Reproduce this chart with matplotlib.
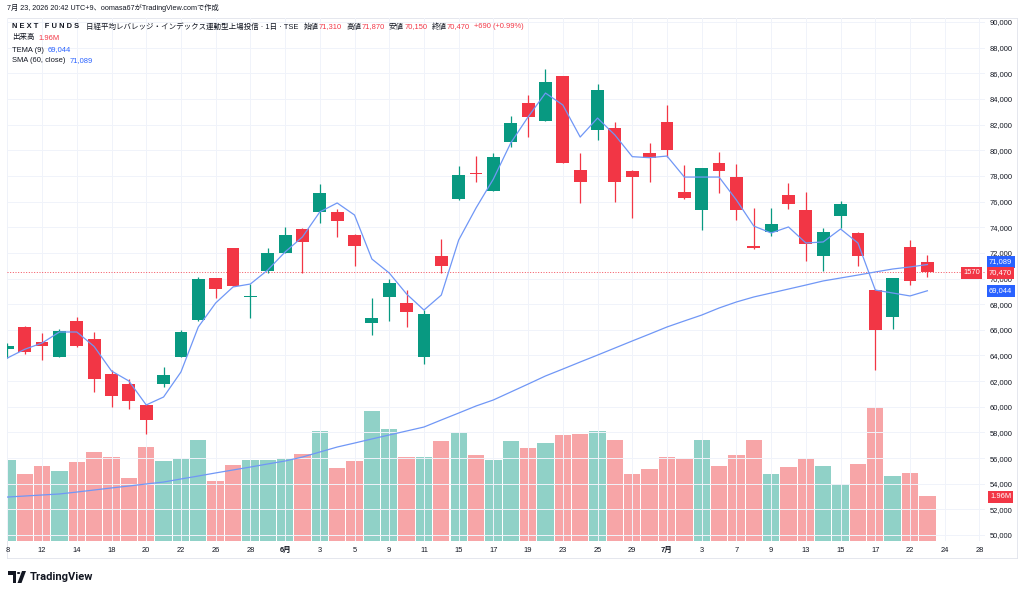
import numpy as np
import matplotlib
matplotlib.use("Agg")
import matplotlib.pyplot as plt
from matplotlib.lines import Line2D
from matplotlib.patches import Polygon, Circle

plt.rcParams['font.family'] = ['Liberation Sans', 'Noto Sans CJK JP', 'DejaVu Sans']

# === DATI ===
# sessioni: 8 mag .. 23 lug 2026
opens = [64500, 66200, 65080, 63860, 66700, 65250, 62580, 61800, 60140, 61750,
         63880, 66770, 70010, 72350, 68540, 70610, 72010, 73830, 75210, 75160,
         73390, 66530, 68580, 68070, 63860, 71780, 76200, 78210, 76850, 80670,
         83660, 82300, 85790, 78460, 81580, 81710, 78380, 79810, 82230, 76720,
         75340, 79000, 77910, 72530, 73600, 76510, 75340, 71780, 74900, 73520,
         69100, 66980, 72480, 71310]
highs = [64970, 66300, 65770, 66050, 66980, 65800, 62870, 62140, 60200, 63120,
         65990, 70090, 70050, 72400, 69570, 72400, 73990, 73900, 77370, 75400,
         73450, 68500, 69940, 69100, 67540, 73070, 78770, 79550, 79760, 82670,
         84300, 86310, 85800, 79810, 85140, 82230, 78460, 80590, 83530, 78850,
         78620, 79870, 78930, 75470, 75470, 77420, 76770, 73910, 76040, 73650,
         69200, 70050, 73000, 71870]
lows = [63800, 64150, 63650, 63850, 64650, 61180, 59960, 59800, 57850, 61560,
        63850, 66700, 68460, 69400, 66950, 70450, 71950, 70410, 74350, 73260,
        70970, 65600, 66690, 66240, 63310, 70450, 76150, 77550, 76800, 80230,
        81060, 82250, 79000, 75910, 80800, 75990, 74740, 77550, 79500, 76180,
        73780, 76640, 74560, 72280, 73340, 75420, 71390, 70580, 73910, 70970,
        62870, 66040, 69490, 70150]
closes = [64750, 64250, 64750, 65900, 64700, 62150, 60860, 60430, 58970, 62450,
          65830, 69940, 69180, 69440, 68580, 72010, 73390, 72850, 76640, 74510,
          72530, 66950, 69670, 67370, 67210, 71000, 78100, 78130, 79500, 82150,
          82570, 85350, 79030, 77550, 84700, 77500, 77890, 79370, 80020, 76300,
          78590, 78410, 75340, 72400, 74250, 75790, 72670, 73650, 75810, 71780,
          65980, 70010, 69780, 70470]
volumes = [3.52, 2.94, 3.25, 3.03, 3.43, 3.88, 3.65, 2.76, 4.10, 3.47,
           3.56, 4.41, 2.63, 3.30, 3.52, 3.52, 3.61, 3.79, 4.81, 3.16,
           3.47, 5.66, 4.86, 3.65, 3.65, 4.37, 4.72, 3.74, 3.52, 4.37,
           4.05, 4.28, 4.63, 4.68, 4.77, 4.41, 2.94, 3.12, 3.65, 3.56,
           4.41, 3.25, 3.74, 4.41, 2.94, 3.21, 3.56, 3.25, 2.49, 3.34,
           5.84, 2.85, 2.98, 1.96]  # milioni
tema = [63800, 64480, 64970, 65830, 65830, 64700, 62790, 62010, 60140, 60760,
        62710, 66220, 68090, 69340, 69570, 70660, 72070, 73240, 75190, 75890,
        74950, 71520, 70430, 68790, 67540, 68710, 73000, 75500, 77760, 80570,
        82600, 84460, 83530, 81030, 82510, 81190, 79500, 79420, 79550, 77910,
        77910, 77910, 76120, 74090, 73550, 74020, 72770, 72850, 73860, 72770,
        69100, 68870, 68640, 69044]
sma60 = [52960, 53040, 53120, 53200, 53350, 53510, 53670, 53820, 53980, 54130,
         54370, 54600, 54840, 55070, 55300, 55540, 55770, 56080, 56470, 56860,
         57170, 57490, 57800, 58110, 58420, 58970, 59510, 60060, 60530, 61150,
         61770, 62400, 62940, 63490, 64030, 64580, 65130, 65670, 66220, 66690,
         67150, 67700, 68170, 68560, 68870, 69180, 69490, 69810, 70040, 70270,
         70510, 70740, 70900, 71089]
tick_labels = ["8", "12", "14", "18", "20", "22", "26", "28", "6月", "3", "5", "9",
               "11", "15", "17", "19", "23", "25", "29", "7月", "3", "7", "9",
               "13", "15", "17", "22", "24", "28"]
last_close = 70470

# === COLORI ===
UP, DOWN = "#089981", "#f23645"
VUP, VDOWN = "#90d1c7", "#f7a5a7"
BLUE = "#2962ff"
LINE = "#7097f6"
TXT = "#131722"
GRID = "#f0f3fa"

W, H = 1024, 596
fig = plt.figure(figsize=(W / 100, H / 100), dpi=100)

def fx(x):
    return x / W

def fy(y):
    return 1 - y / H

rect = [fx(7), fy(541), fx(985) - fx(7), fy(18) - fy(541)]
axv = fig.add_axes(rect, zorder=1)
ax = fig.add_axes(rect, zorder=2)
ax.set_facecolor("none")

xlim = (-0.02, 56.32)
ax.set_xlim(*xlim)
axv.set_xlim(*xlim)
ax.set_ylim(49533, 90312)
axv.set_ylim(0, 22.78)
axv.axis("off")

o = np.array(opens); c = np.array(closes)
hi = np.array(highs); lo = np.array(lows)
idx = np.arange(len(o))
up = c >= o
col = np.where(up, UP, DOWN)

# volume
axv.bar(idx, volumes, width=0.94, color=np.where(up, VUP, VDOWN), linewidth=0)

# candele
ax.vlines(idx, lo, hi, colors=col, linewidth=0.9, zorder=3)
ax.bar(idx, np.maximum(np.abs(c - o), 70), bottom=np.minimum(o, c), width=0.74,
       color=col, linewidth=0, zorder=4)

# indicatori
ax.plot(idx, tema, color=LINE, linewidth=0.9, zorder=5)
ax.plot(idx, sma60, color=LINE, linewidth=0.9, zorder=5)
ax.axhline(last_close, color=DOWN, linewidth=0.6, linestyle=(0, (1.2, 2)), zorder=2)

# assi e griglia
ax.set_yticks(np.arange(50000, 90001, 2000))
ax.set_yticklabels([f"{v:,}" for v in range(50000, 90001, 2000)])
ax.set_xticks(np.arange(0, 2 * len(tick_labels), 2))
ax.set_xticklabels(tick_labels)
for t in ax.get_xticklabels():
    if "月" in t.get_text():
        t.set_fontweight("bold")
ax.yaxis.tick_right()
ax.tick_params(axis="y", length=0, pad=3.5, labelsize=5.4, labelcolor=TXT)
ax.tick_params(axis="x", length=0, pad=4.5, labelsize=5.4, labelcolor=TXT)
ax.grid(True, color=GRID, linewidth=0.7, zorder=0)
ax.set_axisbelow(True)
for s in ax.spines.values():
    s.set_visible(False)

# bordi del pannello
for xs, ys in [((7, 1017), (18, 18)), ((7, 1017), (558, 558)),
               ((7, 7), (18, 558)), ((1017, 1017), (18, 558))]:
    fig.add_artist(Line2D([fx(xs[0]), fx(xs[1])], [fy(ys[0]), fy(ys[1])],
                          color="#e0e3eb", linewidth=0.6))

# etichette di prezzo
def tag(x, y, s, bg):
    fig.text(fx(x), fy(y), s, color="white", fontsize=5.4, ha="left", va="center",
             bbox=dict(boxstyle="square,pad=0.3", facecolor=bg, edgecolor="none"), zorder=10)

tag(989, 262, "71,089", BLUE)
tag(989, 273, "70,470", DOWN)
tag(963, 273, "1570", DOWN)
tag(989, 291, "69,044", BLUE)
tag(990, 497, "1.96M", DOWN)

# intestazione e legenda
fig.text(fx(7), fy(8), "7月 23, 2026 20:42 UTC+9、oomasa67がTradingView.comで作成",
         fontsize=5.2, color=TXT, va="center")

renderer = fig.canvas.get_renderer()

def chain(x, y, parts, size=5.4):
    for s, colr, weight, gap in parts:
        t = fig.text(fx(x), fy(y), s, color=colr, fontsize=size, fontweight=weight,
                     va="center", ha="left")
        x += t.get_window_extent(renderer).width + gap

chain(12, 27, [("N E X T   F U N D S", TXT, "bold", 7),
               ("日経平均レバレッジ・インデックス連動型上場投信 · 1日 · TSE", TXT, "normal", 5),
               ("始値", TXT, "normal", 0.5), ("71,310", DOWN, "normal", 4),
               ("高値", TXT, "normal", 0.5), ("71,870", DOWN, "normal", 4),
               ("安値", TXT, "normal", 0.5), ("70,150", DOWN, "normal", 4),
               ("終値", TXT, "normal", 0.5), ("70,470", DOWN, "normal", 4),
               ("+690 (+0.99%)", DOWN, "normal", 0)])
chain(12, 38, [("出来高", TXT, "normal", 4), ("1.96M", DOWN, "normal", 0)])
chain(12, 50, [("TEMA (9)", TXT, "normal", 4), ("69,044", BLUE, "normal", 0)])
chain(12, 61, [("SMA (60, close)", TXT, "normal", 4), ("71,089", BLUE, "normal", 0)])

# logo TradingView
fig.add_artist(Polygon([(fx(8), fy(571)), (fx(16), fy(571)), (fx(16), fy(583)),
                        (fx(12.5), fy(583)), (fx(12.5), fy(574.5)), (fx(8), fy(574.5))],
                       closed=True, facecolor=TXT, edgecolor="none"))
fig.add_artist(Circle((fx(18.6), fy(573)), 1.7 / W, facecolor=TXT, edgecolor="none"))
fig.add_artist(Polygon([(fx(22), fy(571)), (fx(26), fy(571)), (fx(21.5), fy(583)),
                        (fx(17.5), fy(583))], closed=True, facecolor=TXT, edgecolor="none"))
fig.text(fx(30), fy(577.5), "TradingView", fontsize=8, fontweight="bold",
         color=TXT, va="center", family=["Roboto", "DejaVu Sans"])

fig.savefig("out.png", dpi=100, facecolor="white")
